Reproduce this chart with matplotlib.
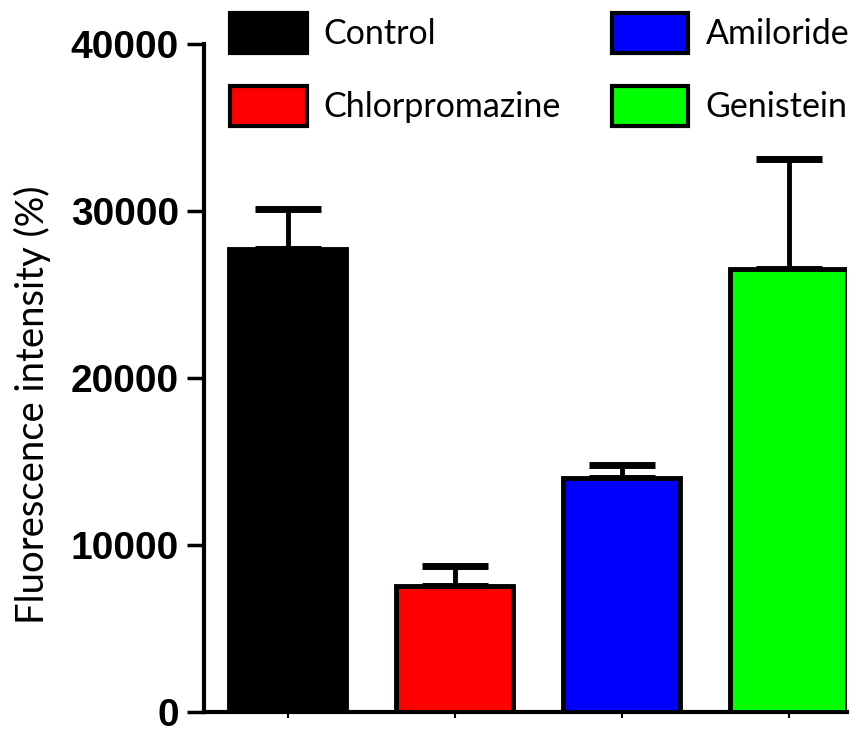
import matplotlib
matplotlib.use("Agg")
import matplotlib.pyplot as plt
from matplotlib.patches import Patch

categories = ["Control", "Chlorpromazine", "Amiloride", "Genistein"]
values = [27700, 7550, 14000, 26550]
errors = [2400, 1200, 800, 6550]
colors = ["#000000", "#ff0000", "#0000ff", "#00ff00"]
yticks = [0, 10000, 20000, 30000, 40000]

fig = plt.figure(figsize=(8.66, 7.31), dpi=100)
ax = fig.add_axes([204/866, 19/731, 643/866, 668/731])

x = list(range(len(categories)))
ax.bar(x, values, width=0.7, color=colors, edgecolor="black", linewidth=3.5, zorder=3)
ax.errorbar(x, values, yerr=[[0]*4, errors], fmt="none", ecolor="black",
            elinewidth=3.5, capsize=24, capthick=5, zorder=2)

ax.set_xlim(-0.5, 3.35)
ax.set_ylim(0, 40000)
ax.set_yticks(yticks)
ax.set_yticklabels([str(t) for t in yticks], fontfamily="Liberation Sans",
                   fontweight="bold", fontsize=28)
ax.set_xticks(x)
ax.set_xticklabels([])
ax.tick_params(axis="y", length=12, width=2.5, pad=6)
ax.tick_params(axis="x", length=4, width=1.5)
for s in ["top", "right"]:
    ax.spines[s].set_visible(False)
for s in ["left", "bottom"]:
    ax.spines[s].set_linewidth(3)

ax.set_ylabel("Fluorescence intensity (%)", fontfamily="Lato", fontsize=27.5)
ax.yaxis.set_label_coords(-0.238, 0.46)

handles = [Patch(facecolor=c, edgecolor="black", linewidth=3) for c in colors]
fig.legend(handles, categories, loc="upper left", bbox_to_anchor=(230/866, 1-13/731),
           ncol=2, frameon=False, prop={"family": "Lato", "size": 24.5},
           handlelength=2.25, handleheight=1.45, handletextpad=0.5,
           columnspacing=1.5, labelspacing=0.95, borderpad=0, borderaxespad=0)

fig.savefig("out.png", dpi=100)
